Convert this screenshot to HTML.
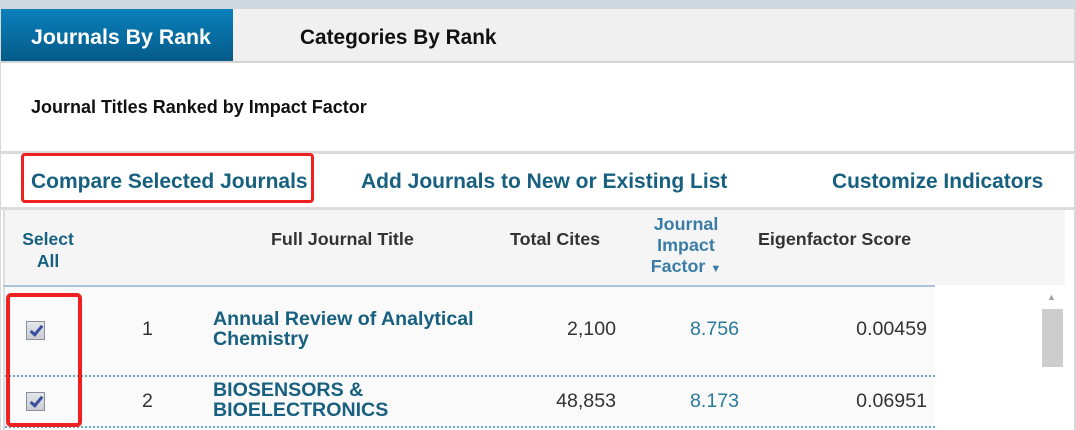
<!DOCTYPE html>
<html><head><meta charset="utf-8"><style>
*{margin:0;padding:0;box-sizing:border-box}
body{width:1076px;height:430px;overflow:hidden;background:#fff;font-family:"Liberation Sans",Arial,sans-serif;position:relative}
.a{position:absolute;white-space:nowrap}
.b{font-weight:bold}
.lk{color:#17607f;font-weight:bold}
.cb{position:absolute;width:19px;height:19px;border:1px solid #8a8f99;background:linear-gradient(#e4e6ea,#c9ccd3);}
.cb:after{content:"";position:absolute;left:6px;top:1px;width:4px;height:10px;border:solid #3a4fa0;border-width:0 3px 3px 0;transform:rotate(40deg)}
</style></head><body>
<div class="a" style="left:0;top:0;width:1076px;height:9px;background:#cfd8de"></div>
<div class="a" style="left:0;top:9px;width:1074px;height:53px;background:#f0f0f0"></div>
<div class="a" style="left:1px;top:9px;width:232px;height:53px;background:linear-gradient(#0a80bc,#055a88)"></div>
<div class="a b" style="left:31px;top:25px;font-size:21.3px;color:#fff">Journals By Rank</div>
<div class="a b" style="left:300px;top:26px;font-size:20.8px;color:#111">Categories By Rank</div>
<div class="a" style="left:0;top:61px;width:1074px;height:2px;background:#d4d4d4"></div>
<div class="a" style="left:1074px;top:9px;width:2px;height:421px;background:#d8d8d8"></div>
<div class="a" style="left:0;top:9px;width:1px;height:421px;background:#d8d8d8"></div>
<div class="a b" style="left:31px;top:97px;font-size:18px;color:#111">Journal Titles Ranked by Impact Factor</div>
<div class="a" style="left:0;top:151px;width:1074px;height:3px;background:#dadada"></div>
<div class="a lk" style="left:31px;top:170px;font-size:21px">Compare Selected Journals</div>
<div class="a lk" style="left:361px;top:170px;font-size:21px">Add Journals to New or Existing List</div>
<div class="a lk" style="left:832px;top:170px;font-size:20.9px">Customize Indicators</div>
<div class="a" style="left:21px;top:153px;width:293px;height:50px;border:3px solid #ee2020;border-radius:4px"></div>
<div class="a" style="left:0;top:207px;width:1074px;height:3px;background:#dcdcdc"></div>
<div class="a" style="left:3px;top:210px;width:1062px;height:75px;background:#f5f5f5;border-left:2px solid #ddd"></div>
<div class="a" style="left:3px;top:210px;width:2px;height:220px;background:#dcdcdc"></div>
<div class="a" style="left:3px;top:285px;width:932px;height:2px;background:#a9c3dd"></div>
<div class="a" style="left:5px;top:287px;width:930px;height:143px;background:#fafafa"></div>
<div class="a b" style="left:10px;top:228px;font-size:17.5px;color:#17607f;text-align:center;width:76px;line-height:22px;white-space:normal">Select All</div>
<div class="a b" style="left:271px;top:229px;font-size:17.9px;color:#333">Full Journal Title</div>
<div class="a b" style="left:510px;top:229px;font-size:17.9px;color:#333">Total Cites</div>
<div class="a b" style="left:631px;top:214px;width:110px;text-align:center;font-size:17.9px;color:#3a7ca5;line-height:21px;white-space:normal">Journal Impact Factor <span style="font-size:11px">&#9660;</span></div>
<div class="a b" style="left:758px;top:229px;font-size:17.9px;color:#333">Eigenfactor Score</div>
<div class="a" style="left:5px;top:375px;width:930px;border-top:2px dotted #6aa4d4"></div>
<div class="a" style="left:5px;top:426px;width:930px;border-top:2px dotted #6aa4d4"></div>
<div class="cb" style="left:26px;top:321px"></div>
<div class="cb" style="left:26px;top:392px"></div>
<div class="a" style="left:142px;top:318px;font-size:19.6px;color:#333">1</div>
<div class="a" style="left:142px;top:390px;font-size:19.6px;color:#333">2</div>
<div class="a lk" style="left:213px;top:309px;font-size:19.6px;line-height:20px">Annual Review of Analytical<br>Chemistry</div>
<div class="a lk" style="left:213px;top:380px;font-size:19.6px;line-height:20px">BIOSENSORS &amp;<br>BIOELECTRONICS</div>
<div class="a" style="left:516px;top:318px;width:100px;text-align:right;font-size:19.6px;color:#333">2,100</div>
<div class="a" style="left:516px;top:390px;width:100px;text-align:right;font-size:19.6px;color:#333">48,853</div>
<div class="a" style="left:690px;top:318px;font-size:19.6px;color:#2a7a9c">8.756</div>
<div class="a" style="left:690px;top:390px;font-size:19.6px;color:#2a7a9c">8.173</div>
<div class="a" style="left:827px;top:318px;width:100px;text-align:right;font-size:19.6px;color:#333">0.00459</div>
<div class="a" style="left:827px;top:390px;width:100px;text-align:right;font-size:19.6px;color:#333">0.06951</div>
<div class="a" style="left:6px;top:293px;width:76px;height:134px;border:4px solid #ee2020;border-radius:5px"></div>
<div class="a" style="left:1047px;top:292px;font-size:9px;color:#a0a0a0">&#9650;</div>
<div class="a" style="left:1042px;top:309px;width:21px;height:58px;background:#cdcdcd"></div>
</body></html>
